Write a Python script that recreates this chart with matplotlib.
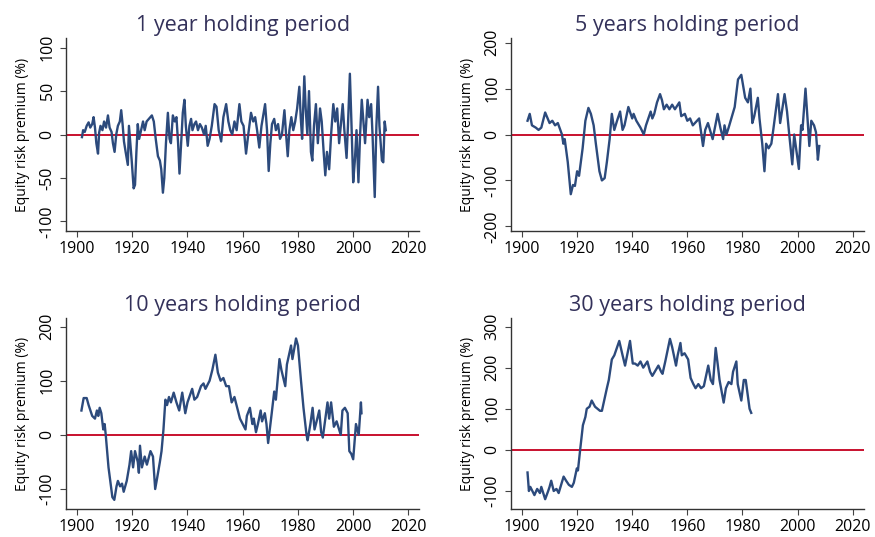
import matplotlib
matplotlib.use("Agg")
import matplotlib.pyplot as plt

plt.rcParams['font.family'] = ['Open Sans', 'DejaVu Sans']

# 1 year holding period
yr1 = [1901.8, 1902.2, 1902.8, 1903.5, 1904.2, 1904.8, 1905.5, 1906.0, 1906.5, 1907.0,
       1907.6, 1908.0, 1908.5, 1909.2, 1909.8, 1910.5, 1911.2, 1911.8, 1912.5, 1913.0,
       1913.6, 1914.2, 1914.8, 1915.5, 1916.0, 1916.5, 1917.0, 1917.6, 1918.4, 1918.8,
       1919.3, 1919.8, 1920.5, 1921.0, 1921.5, 1922.0, 1922.5, 1923.2, 1923.9, 1924.5,
       1925.2, 1926.0, 1927.1, 1927.8, 1928.5, 1929.3, 1930.0, 1930.5, 1931.1, 1931.6,
       1932.2, 1932.9, 1933.5, 1934.0, 1934.7, 1935.4, 1936.0, 1936.6, 1937.1, 1937.7,
       1938.3, 1938.9, 1939.4, 1940.1, 1940.7, 1941.3, 1941.8, 1942.5, 1943.1, 1943.8,
       1944.5, 1945.2, 1946.0, 1946.6, 1947.3, 1948.0, 1948.8, 1949.8, 1950.5, 1951.3,
       1952.2, 1953.0, 1954.0, 1954.8, 1955.5, 1956.2, 1957.0, 1957.8, 1958.8, 1959.5,
       1960.3, 1961.2, 1962.0, 1963.0, 1963.8, 1964.5, 1965.2, 1966.0, 1966.8, 1968.1,
       1968.8, 1969.4, 1970.0, 1970.6, 1971.4, 1972.0, 1972.8, 1973.5, 1974.2, 1975.1,
       1975.7, 1976.3, 1976.9, 1977.6, 1978.3, 1979.0, 1979.7, 1980.5, 1981.0, 1981.5,
       1982.3, 1982.8, 1983.4, 1984.0, 1984.7, 1985.2, 1985.8, 1986.5, 1987.2, 1988.0,
       1988.6, 1989.3, 1989.9, 1990.5, 1991.3, 1992.0, 1992.8, 1993.5, 1994.2, 1994.9,
       1995.5, 1996.2, 1996.8, 1997.6, 1998.1, 1998.8, 1999.4, 2000.0, 2000.6, 2001.2,
       2001.9, 2002.5, 2003.1, 2003.7, 2004.3, 2005.2, 2005.8, 2006.5, 2007.0, 2007.8,
       2008.4, 2009.0, 2009.5, 2010.4, 2010.9, 2011.4, 2011.8]
erp1 = [-3, 5, 3, 10, 14, 8, 12, 20, 8, -10,
        -22, 2, 10, 5, 15, 8, 22, 8, 3, -10,
        -20, 0, 10, 15, 28, 12, -8, -20, -35, 10,
        -10, -30, -62, -58, -20, 12, -5, 5, 15, 5,
        15, 18, 22, 15, -5, -25, -30, -40, -67, -50,
        -10, 25, -5, -10, 22, 15, 20, -10, -45, -10,
        25, 40, 10, -13, 10, 18, 5, 12, 15, 5,
        12, 8, 0, 10, -13, -5, 10, 35, 32, 5,
        -8, 20, 35, 15, 5, 0, 15, 5, 35, 15,
        10, -22, 0, 25, 15, 20, 5, -15, 10, 35,
        5, -42, -10, 12, 18, 5, 12, -5, 0, 28,
        0, -25, 5, 20, 5, 15, 30, 55, 20, -5,
        67, 30, 0, 50, -20, -30, 10, 35, -10, 30,
        15, -20, -47, -20, -40, 0, 35, 15, 30, -10,
        10, 35, 5, -27, 10, 70, 10, -55, -30, 5,
        -55, 0, 40, 15, -10, 40, 20, 35, 0, -72,
        10, 55, 10, -30, -32, 15, 5]

# 5 years holding period
yr5 = [1902.0, 1902.8, 1903.6, 1905.0, 1906.0, 1907.0, 1908.4, 1910.0, 1911.0, 1912.0,
       1913.0, 1914.5, 1915.0, 1915.5, 1916.6, 1917.7, 1918.5, 1919.2, 1920.0, 1920.7,
       1922.0, 1923.0, 1924.1, 1925.0, 1926.0, 1926.8, 1928.1, 1929.0, 1930.0, 1930.8,
       1931.8, 1932.6, 1933.5, 1934.5, 1935.6, 1936.5, 1937.2, 1938.6, 1940.0, 1940.5,
       1941.5, 1943.0, 1944.2, 1945.0, 1946.7, 1947.3, 1948.0, 1949.0, 1950.1, 1950.8,
       1951.5, 1952.5, 1953.5, 1954.5, 1955.5, 1957.1, 1957.8, 1959.1, 1960.0, 1961.0,
       1962.0, 1964.3, 1965.7, 1966.5, 1967.5, 1969.2, 1971.0, 1972.0, 1973.0, 1973.5,
       1974.2, 1975.0, 1977.2, 1978.4, 1979.6, 1981.0, 1982.0, 1982.9, 1983.6, 1984.3,
       1985.6, 1986.2, 1987.2, 1988.0, 1988.6, 1989.5, 1990.5, 1991.2, 1992.9, 1993.7,
       1995.3, 1996.2, 1997.0, 1998.1, 1998.8, 2000.5, 2001.3, 2001.8, 2002.9, 2004.3,
       2005.0, 2006.0, 2006.7, 2007.4, 2007.9]
erp5 = [30, 45, 20, 15, 10, 15, 48, 25, 30, 20,
        25, 0, -20, -10, -60, -130, -110, -112, -80, -90,
        -30, 30, 58, 45, 20, -20, -80, -100, -95, -60,
        -10, 45, 10, 30, 50, 10, 20, 60, 35, 45,
        30, 15, 0, 20, 50, 35, 45, 70, 88, 75,
        55, 65, 55, 65, 55, 70, 40, 45, 30, 35,
        20, 35, -25, 10, 25, -10, 45, 15, -10, 20,
        0, 15, 60, 120, 130, 80, 70, 100, 25, 40,
        80, 35, -20, -80, -20, -30, -20, 10, 88, 25,
        88, 50, 0, -65, 0, -75, 20, 10, 100, -25,
        30, 20, 5, -55, -25]

# 10 years holding period
yr10 = [1901.6, 1902.4, 1903.5, 1904.2, 1905.5, 1906.5, 1907.2, 1907.7, 1908.2, 1908.8,
        1909.5, 1910.0, 1910.4, 1911.4, 1912.8, 1913.5, 1914.3, 1914.8, 1915.6, 1916.3,
        1916.9, 1918.0, 1919.0, 1919.6, 1920.3, 1921.0, 1922.0, 1922.4, 1922.8, 1923.5,
        1924.5, 1925.3, 1926.6, 1927.5, 1928.3, 1929.0, 1930.0, 1930.6, 1931.3, 1932.0,
        1932.6, 1933.3, 1934.0, 1935.0, 1936.0, 1937.0, 1938.1, 1939.2, 1940.0, 1941.7,
        1942.5, 1943.5, 1944.9, 1945.8, 1946.5, 1948.0, 1949.0, 1950.1, 1951.0, 1952.0,
        1953.0, 1954.0, 1955.0, 1956.0, 1957.0, 1958.0, 1959.0, 1961.0, 1961.5, 1962.6,
        1963.5, 1964.0, 1964.8, 1965.5, 1966.5, 1967.0, 1968.0, 1968.6, 1969.2, 1969.8,
        1970.5, 1971.4, 1972.0, 1973.3, 1974.0, 1975.4, 1976.0, 1977.5, 1978.0, 1979.3,
        1980.0, 1981.1, 1982.0, 1983.1, 1983.5, 1984.5, 1985.3, 1986.0, 1987.0, 1987.7,
        1988.4, 1989.0, 1990.7, 1991.3, 1992.0, 1993.0, 1994.0, 1995.5, 1996.1, 1997.0,
        1998.0, 1998.6, 1999.3, 2000.0, 2001.0, 2002.0, 2002.8, 2003.0]
erp10 = [45, 68, 68, 55, 35, 30, 45, 35, 50, 40,
         10, 20, 0, -60, -115, -120, -95, -85, -95, -90,
         -105, -85, -55, -30, -60, -30, -50, -70, -20, -60,
         -40, -55, -30, -40, -100, -80, -50, -30, 10, 65,
         55, 70, 60, 78, 60, 45, 78, 40, 60, 85,
         65, 70, 90, 95, 85, 100, 120, 148, 115, 100,
         105, 90, 90, 60, 70, 50, 30, 10, 35, 50,
         20, 30, 5, 20, 45, 25, 40, 20, -15, 10,
         40, 80, 65, 140, 120, 90, 130, 165, 140, 178,
         165, 100, 50, 0, -10, 20, 50, 10, 30, 45,
         5, -5, 60, 30, 60, 15, 25, 0, 45, 50,
         40, -30, -35, -45, 20, 0, 60, 40]

# 30 years holding period
yr30 = [1902.0, 1902.5, 1903.0, 1904.5, 1905.5, 1906.5, 1907.0, 1908.4, 1909.5, 1910.0,
        1910.6, 1911.5, 1912.5, 1913.3, 1915.1, 1916.0, 1917.0, 1918.1, 1918.8, 1919.9,
        1920.3, 1921.1, 1922.1, 1923.0, 1923.5, 1924.5, 1925.3, 1926.5, 1928.3, 1929.0,
        1930.8, 1931.5, 1932.6, 1933.5, 1935.3, 1936.5, 1937.4, 1939.2, 1940.2, 1941.0,
        1942.0, 1943.0, 1944.0, 1945.5, 1946.5, 1947.3, 1949.5, 1950.5, 1951.0, 1952.0,
        1953.7, 1954.5, 1955.9, 1956.5, 1957.5, 1958.0, 1959.0, 1960.3, 1961.2, 1962.2,
        1963.0, 1964.0, 1965.0, 1966.0, 1967.6, 1968.5, 1969.3, 1970.3, 1971.0, 1971.7,
        1973.2, 1974.0, 1975.0, 1976.0, 1976.6, 1977.8, 1978.3, 1979.6, 1980.5, 1981.2,
        1982.2, 1982.6, 1983.2]
erp30 = [-55, -100, -90, -110, -95, -105, -90, -120, -100, -90,
         -75, -100, -95, -105, -65, -75, -85, -90, -80, -45,
         -50, 0, 60, 80, 100, 105, 120, 105, 95, 95,
         150, 170, 220, 230, 265, 230, 205, 265, 210, 210,
         205, 215, 200, 215, 190, 180, 205, 190, 185, 215,
         270, 250, 205, 230, 260, 230, 235, 220, 175, 160,
         150, 160, 150, 155, 205, 170, 160, 248, 210, 170,
         115, 150, 165, 160, 190, 215, 160, 120, 170, 170,
         120, 100, 90]

panels = [
    ("1 year holding period", yr1, erp1, (-111, 111), [-100, -50, 0, 50, 100]),
    ("5 years holding period", yr5, erp5, (-210, 210), [-200, -100, 0, 100, 200]),
    ("10 years holding period", yr10, erp10, (-137, 216), [-100, 0, 100, 200]),
    ("30 years holding period", yr30, erp30, (-144, 321), [-100, 0, 100, 200, 300]),
]

boxes = [
    [0.0754, 0.570, 0.404, 0.359],
    [0.584, 0.570, 0.403, 0.359],
    [0.0754, 0.052, 0.404, 0.356],
    [0.584, 0.052, 0.403, 0.356],
]

line_col = '#2c4a7c'
red = '#c8102e'
title_col = '#33315a'

fig = plt.figure(figsize=(8.75, 5.37), dpi=100)

for (title, x, y, ylim, yticks), box in zip(panels, boxes):
    ax = fig.add_axes(box)
    ax.axhline(0, color=red, lw=1.4, zorder=1)
    ax.plot(x, y, color=line_col, lw=1.7, zorder=2)
    ax.set_xlim(1896, 2024)
    ax.set_ylim(*ylim)
    ax.set_xticks([1900, 1920, 1940, 1960, 1980, 2000, 2020])
    ax.set_yticks(yticks)
    ax.set_yticklabels([str(t) for t in yticks], rotation=90, va='center')
    ax.tick_params(axis='both', labelsize=11.5, length=4, width=0.8, color='#444444')
    ax.spines['top'].set_visible(False)
    ax.spines['right'].set_visible(False)
    for s in ('left', 'bottom'):
        ax.spines[s].set_color('#333333')
        ax.spines[s].set_linewidth(1.0)
    ax.set_ylabel('Equity risk premium (%)', fontsize=10, labelpad=7)
    ax.set_title(title, fontsize=15.5, color=title_col, pad=5)

fig.savefig('out.png', dpi=100)
